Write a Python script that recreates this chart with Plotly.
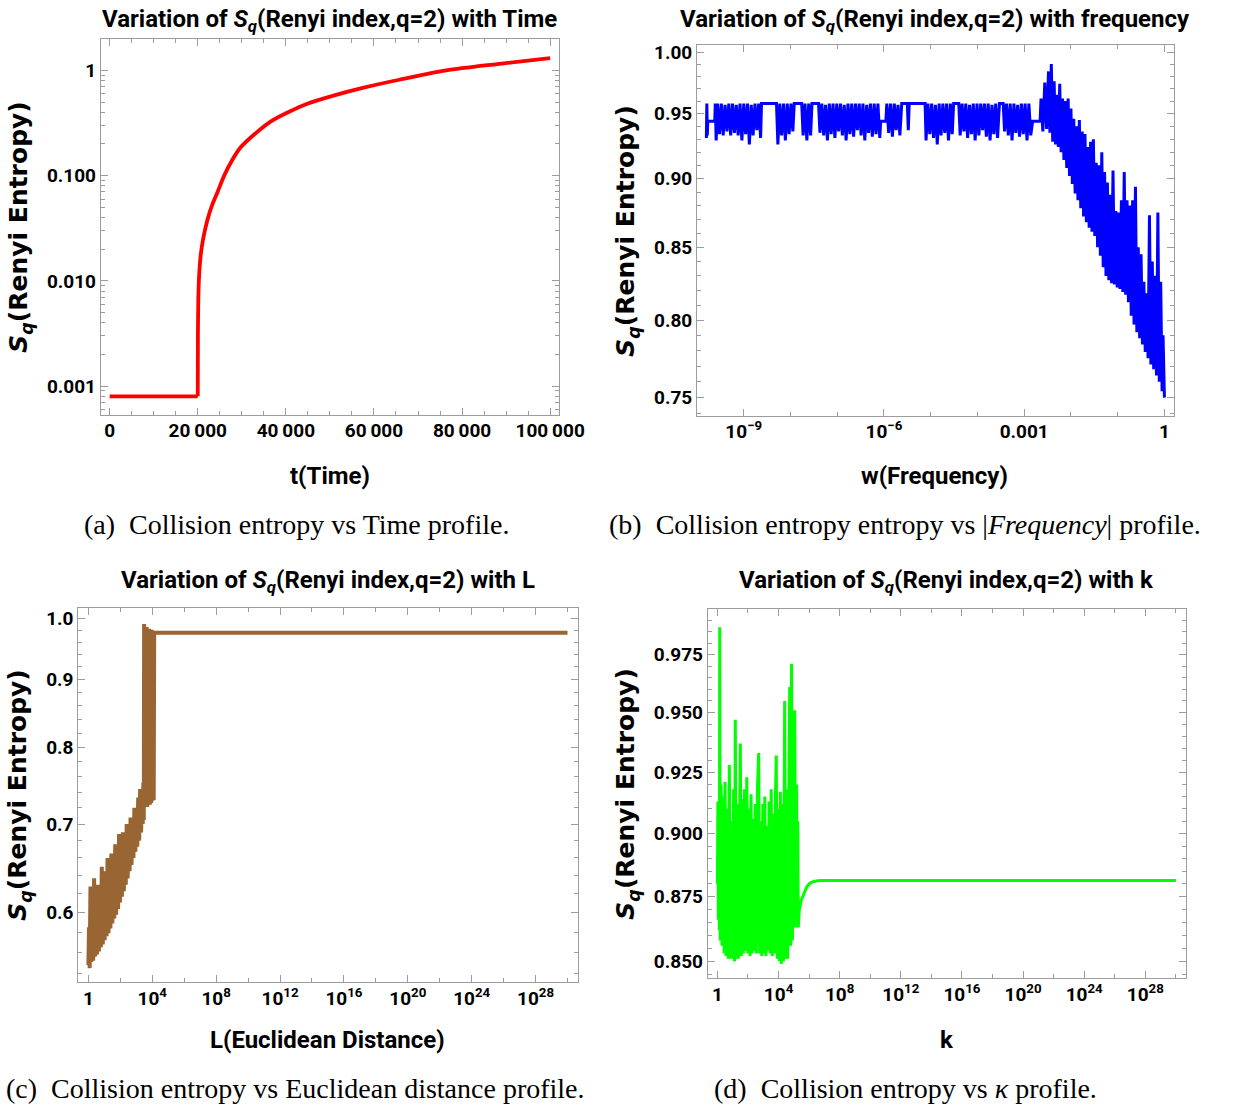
import plotly.graph_objects as go

W, H = 1236, 1106

# ---------------- (a) collision entropy vs time ----------------
time_flat = [0, 20000]
entropy_flat = [0.0008, 0.0008]
time_t = [20000, 20040, 20120, 20300, 20700, 21300, 22200, 23300, 24500,
          26000, 27800, 29700, 33000, 36700, 40500, 44700, 51000, 57900,
          66000, 76400, 88000, 100000]
entropy_t = [0.0008, 0.003, 0.0065, 0.011, 0.018, 0.026, 0.038, 0.053,
             0.07, 0.1, 0.14, 0.185, 0.25, 0.33, 0.40, 0.48, 0.58, 0.69,
             0.82, 1.0, 1.15, 1.31]

# ---------------- (b) collision entropy vs frequency ----------------
freq_log10 = [
    -9.80, -9.79, -9.78, -9.77, -9.62, -9.61, -9.59,
    -9.56, -9.52, -9.48, -9.44, -9.40, -9.36, -9.32, -9.28, -9.24, -9.20,
    -9.16, -9.12, -9.08, -9.04, -9.00, -8.96, -8.92, -8.88, -8.84, -8.80,
    -8.76, -8.72, -8.68, -8.64,
    -8.62, -8.30,
    -8.27, -8.23, -8.19, -8.15, -8.11, -8.07, -8.03, -7.99, -7.95, -7.92,
    -7.76,
    -7.73, -7.69, -7.65, -7.61, -7.57, -7.54,
    -7.40,
    -7.37, -7.33, -7.29, -7.25, -7.21, -7.17, -7.13, -7.09, -7.05, -7.01,
    -6.97, -6.93, -6.89, -6.85, -6.81, -6.77, -6.73, -6.69, -6.65, -6.61,
    -6.57, -6.53, -6.49, -6.45, -6.41, -6.37, -6.33, -6.29, -6.25, -6.21,
    -6.17, -6.13, -6.09,
    -6.07, -5.96,
    -5.94, -5.90, -5.86, -5.82, -5.78, -5.74, -5.70, -5.66, -5.62,
    -5.50, -5.48, -5.46, -5.12,
    -5.10, -5.06, -5.02, -4.98, -4.94, -4.90, -4.86, -4.82, -4.78, -4.74,
    -4.70, -4.66, -4.62, -4.58, -4.54, -4.51,
    -4.40,
    -4.37, -4.33, -4.29, -4.25, -4.21, -4.17, -4.13, -4.09, -4.05, -4.01,
    -3.97, -3.93, -3.89, -3.85, -3.81, -3.77, -3.73, -3.69, -3.65, -3.61,
    -3.57, -3.53, -3.45,
    -3.42, -3.38, -3.34, -3.30, -3.26, -3.22, -3.18, -3.14, -3.10, -3.06,
    -3.02, -2.98, -2.94, -2.90, -2.86, -2.82,
    -2.66,
    -2.64, -2.60, -2.56, -2.52, -2.48, -2.45, -2.42, -2.39, -2.36, -2.33,
    -2.30, -2.27, -2.24, -2.21, -2.18, -2.15, -2.12, -2.09, -2.06, -2.03,
    -2.00, -1.97, -1.94, -1.91, -1.88, -1.85, -1.82, -1.79, -1.76, -1.73,
    -1.70, -1.67, -1.64, -1.61, -1.58, -1.55, -1.52, -1.49, -1.46, -1.43,
    -1.40, -1.37, -1.34, -1.31, -1.28, -1.25, -1.22, -1.19, -1.16, -1.13,
    -1.10, -1.07, -1.04, -1.01, -0.98, -0.95, -0.92, -0.89, -0.86, -0.83,
    -0.80, -0.77, -0.74, -0.71, -0.68, -0.65, -0.62, -0.59, -0.56, -0.53,
    -0.50, -0.47, -0.44, -0.41, -0.38, -0.35, -0.32, -0.29, -0.26, -0.23,
    -0.20, -0.17, -0.14, -0.11, -0.08, -0.05, -0.03, 0.00,
]
entropy_w = [
    0.931, 0.958, 0.933, 0.944, 0.944, 0.958, 0.929,
    0.958, 0.934, 0.958, 0.933, 0.957, 0.936, 0.958, 0.933, 0.958, 0.935,
    0.957, 0.933, 0.958, 0.929, 0.958, 0.934, 0.958, 0.926, 0.957, 0.933,
    0.958, 0.937, 0.958, 0.931,
    0.958, 0.958,
    0.926, 0.958, 0.933, 0.958, 0.929, 0.958, 0.934, 0.958, 0.936, 0.958,
    0.958,
    0.933, 0.958, 0.929, 0.958, 0.933, 0.958,
    0.958,
    0.935, 0.958, 0.933, 0.957, 0.929, 0.958, 0.934, 0.958, 0.931, 0.958,
    0.936, 0.958, 0.933, 0.957, 0.929, 0.958, 0.934, 0.958, 0.932, 0.958,
    0.937, 0.958, 0.933, 0.958, 0.929, 0.957, 0.935, 0.958, 0.932, 0.958,
    0.934, 0.958, 0.931,
    0.944, 0.944,
    0.958, 0.935, 0.958, 0.932, 0.958, 0.937, 0.957, 0.933, 0.958,
    0.958, 0.937, 0.958, 0.958,
    0.929, 0.958, 0.934, 0.958, 0.931, 0.957, 0.926, 0.958, 0.933, 0.958,
    0.935, 0.958, 0.929, 0.958, 0.934, 0.958,
    0.958,
    0.933, 0.958, 0.936, 0.958, 0.931, 0.957, 0.934, 0.958, 0.929, 0.958,
    0.933, 0.958, 0.937, 0.958, 0.932, 0.958, 0.929, 0.957, 0.934, 0.958,
    0.931, 0.958, 0.958,
    0.936, 0.958, 0.933, 0.958, 0.929, 0.958, 0.935, 0.957, 0.932, 0.958,
    0.934, 0.958, 0.929, 0.958, 0.933, 0.944,
    0.944,
    0.962, 0.936, 0.975, 0.938, 0.984, 0.935, 0.990, 0.928, 0.976, 0.926,
    0.965, 0.924, 0.974, 0.920, 0.962, 0.914, 0.960, 0.908, 0.962, 0.902,
    0.954, 0.896, 0.946, 0.889, 0.940, 0.884, 0.945, 0.878, 0.936, 0.872,
    0.934, 0.868, 0.924, 0.864, 0.928, 0.861, 0.930, 0.858, 0.912, 0.850,
    0.910, 0.844, 0.920, 0.836, 0.905, 0.830, 0.897, 0.827, 0.888, 0.825,
    0.906, 0.824, 0.876, 0.822, 0.875, 0.821, 0.884, 0.819, 0.905, 0.817,
    0.884, 0.812, 0.880, 0.803, 0.884, 0.797, 0.894, 0.792, 0.850, 0.788,
    0.845, 0.784, 0.826, 0.779, 0.818, 0.775, 0.873, 0.771, 0.840, 0.768,
    0.830, 0.764, 0.875, 0.760, 0.826, 0.754, 0.790, 0.750,
]

# ---------------- (c) collision entropy vs Euclidean distance ----------------
dist_log10 = [
    0.00, 0.04, 0.08, 0.13, 0.18, 0.24, 0.30, 0.36, 0.42, 0.48,
    0.54, 0.60, 0.66, 0.72, 0.78, 0.84, 0.90, 0.96, 1.02, 1.08,
    1.14, 1.20, 1.26, 1.32, 1.38, 1.44, 1.50, 1.56, 1.62, 1.68,
    1.74, 1.80, 1.86, 1.92, 1.98, 2.04, 2.10, 2.16, 2.22, 2.28,
    2.34, 2.40, 2.46, 2.52, 2.58, 2.64, 2.70, 2.76, 2.82, 2.88,
    2.94, 3.00, 3.06, 3.12, 3.18, 3.24, 3.30, 3.36, 3.40, 3.44,
    3.47, 3.49, 3.53, 3.57, 3.61, 3.65, 3.69, 3.73, 3.77, 3.81,
    3.85, 3.89, 3.93, 3.97, 4.01, 4.05, 4.09, 4.12, 30.0,
]
entropy_L = [
    0.548, 0.585, 0.545, 0.628, 0.551, 0.596, 0.552, 0.637, 0.556, 0.605,
    0.558, 0.630, 0.561, 0.612, 0.565, 0.650, 0.568, 0.622, 0.572, 0.645,
    0.576, 0.660, 0.579, 0.640, 0.584, 0.665, 0.589, 0.652, 0.594, 0.676,
    0.598, 0.668, 0.604, 0.688, 0.611, 0.678, 0.617, 0.690, 0.623, 0.685,
    0.630, 0.700, 0.637, 0.694, 0.645, 0.708, 0.652, 0.705, 0.660, 0.720,
    0.667, 0.716, 0.673, 0.733, 0.680, 0.744, 0.690, 0.738, 0.700, 0.752,
    0.705, 0.991, 0.722, 0.982, 0.725, 0.986, 0.721, 0.980, 0.727, 0.983,
    0.724, 0.979, 0.726, 0.981, 0.729, 0.978, 0.730, 0.976, 0.976,
]

# ---------------- (d) collision entropy vs k ----------------
k_log10 = [
    0.00, 0.03, 0.06, 0.10, 0.13, 0.15, 0.18, 0.24, 0.30, 0.37,
    0.44, 0.50, 0.57, 0.64, 0.71, 0.78, 0.85, 0.92, 0.99, 1.06,
    1.12, 1.17, 1.23, 1.30, 1.37, 1.44, 1.50, 1.56, 1.63, 1.70,
    1.77, 1.84, 1.92, 1.99, 2.06, 2.13, 2.20, 2.27, 2.34, 2.41,
    2.48, 2.55, 2.62, 2.70, 2.76, 2.83, 2.90, 2.97, 3.04, 3.10,
    3.17, 3.24, 3.31, 3.38, 3.45, 3.52, 3.59, 3.66, 3.73, 3.80,
    3.85, 3.92, 3.99, 4.06, 4.12, 4.18, 4.25, 4.32, 4.40, 4.46,
    4.53, 4.60, 4.67, 4.73, 4.79, 4.85, 4.91, 4.98, 5.06, 5.10,
    5.14, 5.18, 5.22, 5.26, 5.29, 5.36, 5.48, 5.61, 5.73, 5.86,
    6.05, 6.24, 6.55, 6.87, 30.0,
]
entropy_k = [
    0.880, 0.913, 0.866, 0.905, 0.862, 0.987, 0.858, 0.920, 0.856, 0.915,
    0.853, 0.921, 0.852, 0.910, 0.851, 0.928, 0.851, 0.905, 0.851, 0.918,
    0.850, 0.947, 0.851, 0.912, 0.851, 0.915, 0.937, 0.852, 0.914, 0.853,
    0.918, 0.854, 0.923, 0.853, 0.910, 0.852, 0.916, 0.853, 0.906, 0.854,
    0.912, 0.853, 0.918, 0.933, 0.853, 0.905, 0.852, 0.912, 0.853, 0.915,
    0.852, 0.903, 0.854, 0.913, 0.853, 0.918, 0.852, 0.908, 0.853, 0.916,
    0.932, 0.851, 0.910, 0.850, 0.917, 0.849, 0.912, 0.850, 0.955, 0.851,
    0.918, 0.851, 0.935, 0.961, 0.856, 0.971, 0.858, 0.930, 0.951, 0.863,
    0.912, 0.920, 0.865, 0.905, 0.863, 0.870, 0.8735, 0.8755, 0.8775, 0.879,
    0.8802, 0.8808, 0.8812, 0.8813, 0.8813,
]

# ---------------- tick definitions ----------------
time_ticks = [0, 20000, 40000, 60000, 80000, 100000]
time_ticktext = ["0", "20\u2009000", "40\u2009000", "60\u2009000", "80\u2009000", "100\u2009000"]
time_minor = [5000, 10000, 15000, 25000, 30000, 35000, 45000, 50000, 55000,
              65000, 70000, 75000, 85000, 90000, 95000]
ent_t_ticks = [0.001, 0.01, 0.1, 1]
ent_t_ticktext = ["0.001", "0.010", "0.100", "1"]
ent_t_minor = [0.0006, 0.0007, 0.0008, 0.0009,
               0.002, 0.003, 0.004, 0.005, 0.006, 0.007, 0.008, 0.009,
               0.02, 0.03, 0.04, 0.05, 0.06, 0.07, 0.08, 0.09,
               0.2, 0.3, 0.4, 0.5, 0.6, 0.7, 0.8, 0.9, 2]

freq_ticks = [1e-9, 1e-6, 1e-3, 1]
freq_ticktext = ["10<sup>\u22129</sup>", "10<sup>\u22126</sup>", "0.001", "1"]
freq_minor = [1e-10, 1e-8, 1e-7, 1e-5, 1e-4, 1e-2, 1e-1]
ent_w_ticks = [0.75, 0.80, 0.85, 0.90, 0.95, 1.00]
ent_w_ticktext = ["0.75", "0.80", "0.85", "0.90", "0.95", "1.00"]
ent_w_minor = [0.74, 0.76, 0.77, 0.78, 0.79, 0.81, 0.82, 0.83, 0.84,
               0.86, 0.87, 0.88, 0.89, 0.91, 0.92, 0.93, 0.94,
               0.96, 0.97, 0.98, 0.99]

big_ticks = [1, 1e4, 1e8, 1e12, 1e16, 1e20, 1e24, 1e28]
big_ticktext = ["1", "10<sup>4</sup>", "10<sup>8</sup>", "10<sup>12</sup>",
                "10<sup>16</sup>", "10<sup>20</sup>", "10<sup>24</sup>", "10<sup>28</sup>"]
big_minor = [1e2, 1e6, 1e10, 1e14, 1e18, 1e22, 1e26, 1e30]

ent_L_ticks = [0.6, 0.7, 0.8, 0.9, 1.0]
ent_L_ticktext = ["0.6", "0.7", "0.8", "0.9", "1.0"]
ent_L_minor = [0.54, 0.56, 0.58, 0.62, 0.64, 0.66, 0.68, 0.72, 0.74, 0.76, 0.78,
               0.82, 0.84, 0.86, 0.88, 0.92, 0.94, 0.96, 0.98]

ent_k_ticks = [0.850, 0.875, 0.900, 0.925, 0.950, 0.975]
ent_k_ticktext = ["0.850", "0.875", "0.900", "0.925", "0.950", "0.975"]
ent_k_minor = [0.845, 0.855, 0.86, 0.865, 0.87, 0.88, 0.885, 0.89, 0.895,
               0.905, 0.91, 0.915, 0.92, 0.93, 0.935, 0.94, 0.945,
               0.955, 0.96, 0.965, 0.97, 0.98, 0.985, 0.99]

# ---------------- styling ----------------
FRAME = "#9c9c9c"
LABEL_FAMILY = "Roboto, Liberation Sans, sans-serif"
YLABEL_FAMILY = "DejaVu Sans, sans-serif"
CAPTION_FAMILY = "Liberation Serif, serif"
TICK_FONT = dict(family=LABEL_FAMILY, size=19, color="black", weight="bold")


def px_x(px):
    return px / W


def px_y(py):
    return 1 - py / H


def make_axis(dom, anchor, rng, kind, vals, text, minor_vals, standoff):
    return dict(
        domain=dom, anchor=anchor, range=rng, type=kind,
        showline=True, linecolor=FRAME, linewidth=1, mirror="allticks",
        ticks="inside", ticklen=7, tickwidth=1, tickcolor=FRAME,
        tickmode="array", tickvals=vals, ticktext=text, tickfont=TICK_FONT,
        ticklabelstandoff=standoff,
        showgrid=False, zeroline=False,
        minor=dict(tickmode="array", tickvals=minor_vals, ticks="inside",
                   ticklen=4, tickwidth=1, tickcolor=FRAME, showgrid=False),
    )


fig = go.Figure()

fig.add_trace(go.Scatter(x=time_flat, y=entropy_flat, mode="lines",
                         line=dict(color="#ff0000", width=3.8),
                         xaxis="x", yaxis="y", showlegend=False))
fig.add_trace(go.Scatter(x=time_t, y=entropy_t, mode="lines",
                         line=dict(color="#ff0000", width=3.8, shape="spline", smoothing=0.8),
                         xaxis="x", yaxis="y", showlegend=False))
fig.add_trace(go.Scatter(x=[10 ** e for e in freq_log10], y=entropy_w, mode="lines",
                         line=dict(color="#0000ff", width=3),
                         xaxis="x2", yaxis="y2", showlegend=False))
fig.add_trace(go.Scatter(x=[10 ** e for e in dist_log10], y=entropy_L, mode="lines",
                         line=dict(color="#996633", width=4),
                         xaxis="x3", yaxis="y3", showlegend=False))
fig.add_trace(go.Scatter(x=[10 ** e for e in k_log10], y=entropy_k, mode="lines",
                         line=dict(color="#00ff00", width=3),
                         xaxis="x4", yaxis="y4", showlegend=False))

# plot frames in pixel coordinates: (left, right, top, bottom)
frames = {
    "a": (103, 571, 35, 412),
    "b": (712, 1199, 41, 413),
    "c": (80, 590, 606, 982),
    "d": (723, 1211, 607, 978),
}


def xdom(f):
    return [px_x(f[0]), px_x(f[1])]


def ydom(f):
    return [px_y(f[3]), px_y(f[2])]


fig.update_layout(
    xaxis=make_axis(xdom(frames["a"]), "y", [-2000, 102000], "linear",
                    time_ticks, time_ticktext, time_minor, -1),
    yaxis=make_axis(ydom(frames["a"]), "x", [-3.27, 0.30], "log",
                    ent_t_ticks, ent_t_ticktext, ent_t_minor, 0),
    xaxis2=make_axis(xdom(frames["b"]), "y2", [-10.0, 0.2], "log",
                     freq_ticks, freq_ticktext, freq_minor, -1),
    yaxis2=make_axis(ydom(frames["b"]), "x2", [-0.1314, 0.0026], "log",
                     ent_w_ticks, ent_w_ticktext, ent_w_minor, 0),
    xaxis3=make_axis(xdom(frames["c"]), "y3", [-0.63, 30.63], "log",
                     big_ticks, big_ticktext, big_minor, -1),
    yaxis3=make_axis(ydom(frames["c"]), "x3", [-0.2744, 0.0083], "log",
                     ent_L_ticks, ent_L_ticktext, ent_L_minor, 0),
    xaxis4=make_axis(xdom(frames["d"]), "y4", [-0.63, 30.63], "log",
                     big_ticks, big_ticktext, big_minor, -1),
    yaxis4=make_axis(ydom(frames["d"]), "x4", [-0.0739, -0.0021], "log",
                     ent_k_ticks, ent_k_ticktext, ent_k_minor, 0),
)


def note(text, px, py, size, family, angle=0, bold=True):
    font = dict(family=family, size=size, color="black")
    if bold:
        font["weight"] = "bold"
    return dict(text=text, x=px_x(px), y=px_y(py), xref="paper", yref="paper",
                xanchor="center", yanchor="middle", showarrow=False,
                textangle=angle, font=font)


SQ = "<i>S<sub>q</sub></i>"
annotations = [
    note(f"Variation of {SQ}(Renyi index,q=2) with Time", 337, 17, 24, LABEL_FAMILY),
    note(f"Variation of {SQ}(Renyi index,q=2) with frequency", 955, 17, 24, LABEL_FAMILY),
    note(f"Variation of {SQ}(Renyi index,q=2) with L", 335, 580, 24, LABEL_FAMILY),
    note(f"Variation of {SQ}(Renyi index,q=2) with k", 967, 580, 24, LABEL_FAMILY),
    note("t(Time)", 337, 474, 24, LABEL_FAMILY),
    note("w(Frequency)", 955, 474, 24, LABEL_FAMILY),
    note("L(Euclidean Distance)", 335, 1040, 24, LABEL_FAMILY),
    note("k", 967, 1040, 24, LABEL_FAMILY),
    note(f"{SQ}(Renyi Entropy)", 21, 224, 25, YLABEL_FAMILY, angle=-90),
    note(f"{SQ}(Renyi Entropy)", 641, 228, 25, YLABEL_FAMILY, angle=-90),
    note(f"{SQ}(Renyi Entropy)", 20, 794, 25, YLABEL_FAMILY, angle=-90),
    note(f"{SQ}(Renyi Entropy)", 641, 793, 25, YLABEL_FAMILY, angle=-90),
    note("(a)\u2002Collision entropy vs Time profile.", 303, 522, 28, CAPTION_FAMILY, bold=False),
    note("(b)\u2002Collision entropy entropy vs |<i>Frequency</i>| profile.", 924, 522, 28,
         CAPTION_FAMILY, bold=False),
    note("(c)\u2002Collision entropy vs Euclidean distance profile.", 302, 1088, 28,
         CAPTION_FAMILY, bold=False),
    note("(d)\u2002Collision entropy vs <i>\u03ba</i> profile.", 925, 1088, 28,
         CAPTION_FAMILY, bold=False),
]

fig.update_layout(
    width=W, height=H, autosize=False,
    margin=dict(l=0, r=0, t=0, b=0, pad=0),
    paper_bgcolor="white", plot_bgcolor="white",
    showlegend=False,
    annotations=annotations,
)

# fixed-size page: no body margin, no scrollbars
page_js = (
    "document.documentElement.style.margin='0';"
    "document.body.style.margin='0';"
    "document.documentElement.style.overflow='hidden';"
    "document.body.style.overflow='hidden';"
)
fig.write_html("out.html", config={"responsive": False}, post_script=page_js)
